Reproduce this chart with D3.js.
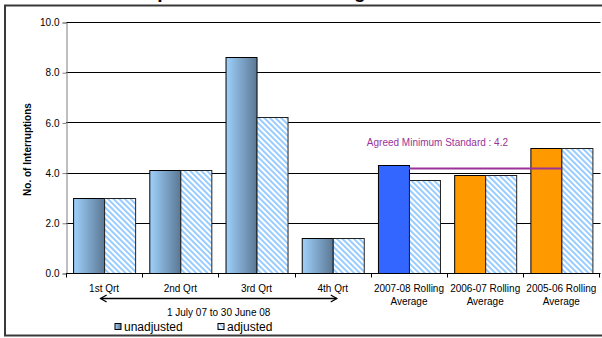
<!DOCTYPE html>
<html>
<head>
<meta charset="utf-8">
<script src="https://cdn.jsdelivr.net/npm/d3@7"></script>
<style>
  body { margin: 0; background: #fff; }
  svg { display: block; font-family: Arial, "Liberation Sans", sans-serif; }
</style>
</head>
<body>
<svg id="chart" width="602" height="338"></svg>
<script>
// Interruption counts per quarter and rolling averages
const categories = ["1st Qrt", "2nd Qrt", "3rd Qrt", "4th Qrt",
  "2007-08 Rolling Average", "2006-07 Rolling Average", "2005-06 Rolling Average"];
const categoryLines = [["1st Qrt"], ["2nd Qrt"], ["3rd Qrt"], ["4th Qrt"],
  ["2007-08 Rolling", "Average"], ["2006-07 Rolling", "Average"], ["2005-06 Rolling", "Average"]];
const unadjusted = [3.0, 4.1, 8.6, 1.4, 4.3, 3.9, 5.0];
const adjusted = [3.0, 4.1, 6.2, 1.4, 3.7, 3.9, 5.0];
const seriesNames = ["unadjusted", "adjusted"];
const yTicks = [0, 2, 4, 6, 8, 10];
const minimumStandard = 4.2;
const standardLabel = "Agreed Minimum Standard : 4.2";
const periodLabel = "1 July 07 to 30 June 08";
const yTitle = "No. of Interruptions";
const chartTitle = "Interruptions Performance Against Standard";

const svg = d3.select("#chart");
const plot = { left: 66, right: 599.5, top: 22, bottom: 273 };

const x = d3.scaleBand().domain(categories).range([plot.left, plot.right]).padding(0);
const xs = d3.scaleBand().domain(seriesNames).range([0, x.bandwidth()])
  .paddingInner(0).paddingOuter(0.229);
const y = d3.scaleLinear().domain([0, 10]).range([plot.bottom, plot.top]);

// fills: quarterly gradient, current year solid blue, earlier years orange
const defs = svg.append("defs");
const grad = defs.append("linearGradient").attr("id", "qgrad")
  .attr("x1", "0").attr("x2", "1").attr("y1", "0").attr("y2", "0");
grad.append("stop").attr("offset", "0%").attr("stop-color", "#9fd0fb");
grad.append("stop").attr("offset", "100%").attr("stop-color", "#5b7894");

const hatch = defs.append("pattern").attr("id", "hatch")
  .attr("patternUnits", "userSpaceOnUse").attr("width", 4).attr("height", 4)
  .attr("patternTransform", "rotate(-45)");
hatch.append("rect").attr("width", 4).attr("height", 4).attr("fill", "#ffffff");
hatch.append("rect").attr("width", 2).attr("height", 4).attr("fill", "#99ccff");

function unadjustedFill(i) {
  if (i < 4) return "url(#qgrad)";
  if (i === 4) return "#3366ff";
  return "#ff9900";
}

// outer frame
svg.append("rect").attr("x", 5).attr("y", 5.5).attr("width", 620).attr("height", 330)
  .attr("fill", "none").attr("stroke", "#3a3a3a").attr("stroke-width", 2);

// title sits above the frame
svg.append("text").attr("x", 97).attr("y", -2)
  .attr("font-size", 19).attr("font-weight", "bold").attr("fill", "#000")
  .text(chartTitle);

// gridlines
svg.append("g").selectAll("line").data(yTicks.filter(d => d > 0)).join("line")
  .attr("x1", plot.left).attr("x2", plot.right + 1)
  .attr("y1", d => Math.round(y(d)) + 0.5).attr("y2", d => Math.round(y(d)) + 0.5)
  .attr("stroke", "#000").attr("stroke-width", 1);

// y axis
const yAxis = d3.axisLeft(y).tickValues(yTicks).tickFormat(d3.format(".1f"))
  .tickSize(4).tickPadding(3);
const gy = svg.append("g").attr("transform", `translate(${plot.left + 0.5},0.5)`).call(yAxis);
gy.select(".domain").attr("stroke", "#808080");
gy.selectAll(".tick line").attr("stroke", "#808080");
gy.selectAll("text").attr("font-size", 10).attr("fill", "#000")
  .attr("font-family", "Arial, 'Liberation Sans', sans-serif");

svg.append("text")
  .attr("transform", `translate(31,${(plot.top + plot.bottom) / 2 + 2}) rotate(-90)`)
  .attr("text-anchor", "middle").attr("font-size", 10).attr("font-weight", "bold")
  .text(yTitle);

// bars
const groups = svg.append("g").selectAll("g").data(categories).join("g")
  .attr("transform", d => `translate(${x(d)},0)`);

groups.append("rect")
  .attr("x", xs("unadjusted") + 0.5)
  .attr("y", (d, i) => Math.round(y(unadjusted[i])) + 0.5)
  .attr("width", xs.bandwidth())
  .attr("height", (d, i) => Math.round(y(0)) - Math.round(y(unadjusted[i])))
  .attr("fill", (d, i) => unadjustedFill(i))
  .attr("stroke", "#000").attr("stroke-width", 1);

groups.append("rect")
  .attr("x", xs("adjusted") + 0.5)
  .attr("y", (d, i) => Math.round(y(adjusted[i])) + 0.5)
  .attr("width", xs.bandwidth())
  .attr("height", (d, i) => Math.round(y(0)) - Math.round(y(adjusted[i])))
  .attr("fill", "url(#hatch)")
  .attr("stroke", "#222").attr("stroke-width", 1);

// x axis line with ticks between categories
const gx = svg.append("g").attr("transform", `translate(0,${Math.round(y(0)) + 0.5})`);
gx.append("line").attr("x1", plot.left).attr("x2", plot.right + 1)
  .attr("stroke", "#000");
gx.selectAll("line.tk").data(categories.map(c => x(c)).concat([x(categories[6]) + x.bandwidth()]))
  .join("line").attr("class", "tk")
  .attr("x1", d => Math.round(d) + 0.5).attr("x2", d => Math.round(d) + 0.5)
  .attr("y1", 0).attr("y2", 4).attr("stroke", "#000");

// category labels
const labels = svg.append("g").selectAll("text").data(categories).join("text")
  .attr("text-anchor", "middle").attr("font-size", 10).attr("fill", "#000")
  .attr("x", d => x(d) + x.bandwidth() / 2);
labels.each(function (d, i) {
  d3.select(this).selectAll("tspan").data(categoryLines[i]).join("tspan")
    .attr("x", x(d) + x.bandwidth() / 2)
    .attr("y", (t, k) => 291.5 + k * 13.5)
    .text(t => t);
});

// minimum standard line across the rolling averages
const stdY = Math.round(y(minimumStandard)) + 0.5;
svg.append("line")
  .attr("x1", x(categories[4]) + x.bandwidth() / 2)
  .attr("x2", x(categories[6]) + x.bandwidth() / 2)
  .attr("y1", stdY).attr("y2", stdY)
  .attr("stroke", "#993399").attr("stroke-width", 2);
svg.append("text").attr("x", x(categories[4]) - 4).attr("y", 146)
  .attr("font-size", 10).attr("fill", "#993399").text(standardLabel);

// period arrow under the quarters
const ax1 = x(categories[0]) + x.bandwidth() / 2 - 3.5;
const ax2 = x(categories[3]) + x.bandwidth() / 2 + 4;
const ay = 298.5;
svg.append("line").attr("x1", ax1).attr("x2", ax2).attr("y1", ay).attr("y2", ay)
  .attr("stroke", "#000").attr("stroke-width", 1.3);
svg.append("path")
  .attr("d", `M${ax1 + 6},${ay - 3.5} L${ax1},${ay} L${ax1 + 6},${ay + 3.5}`)
  .attr("fill", "none").attr("stroke", "#000").attr("stroke-width", 1.3);
svg.append("path")
  .attr("d", `M${ax2 - 6},${ay - 3.5} L${ax2},${ay} L${ax2 - 6},${ay + 3.5}`)
  .attr("fill", "none").attr("stroke", "#000").attr("stroke-width", 1.3);
svg.append("text").attr("x", (ax1 + ax2) / 2).attr("y", 315.5)
  .attr("text-anchor", "middle").attr("font-size", 10).text(periodLabel);

// legend
const legendX = [115, 218];
const legend = svg.append("g").selectAll("g").data(seriesNames).join("g")
  .attr("transform", (d, i) => `translate(${legendX[i]},323.5)`);
legend.append("rect").attr("width", 6).attr("height", 6)
  .attr("fill", (d, i) => i === 0 ? "url(#qgrad)" : "url(#hatch)")
  .attr("stroke", "#000").attr("stroke-width", 1);
legend.append("text").attr("x", 9).attr("y", 7.5).attr("font-size", 12).text(d => d);
</script>
</body>
</html>
